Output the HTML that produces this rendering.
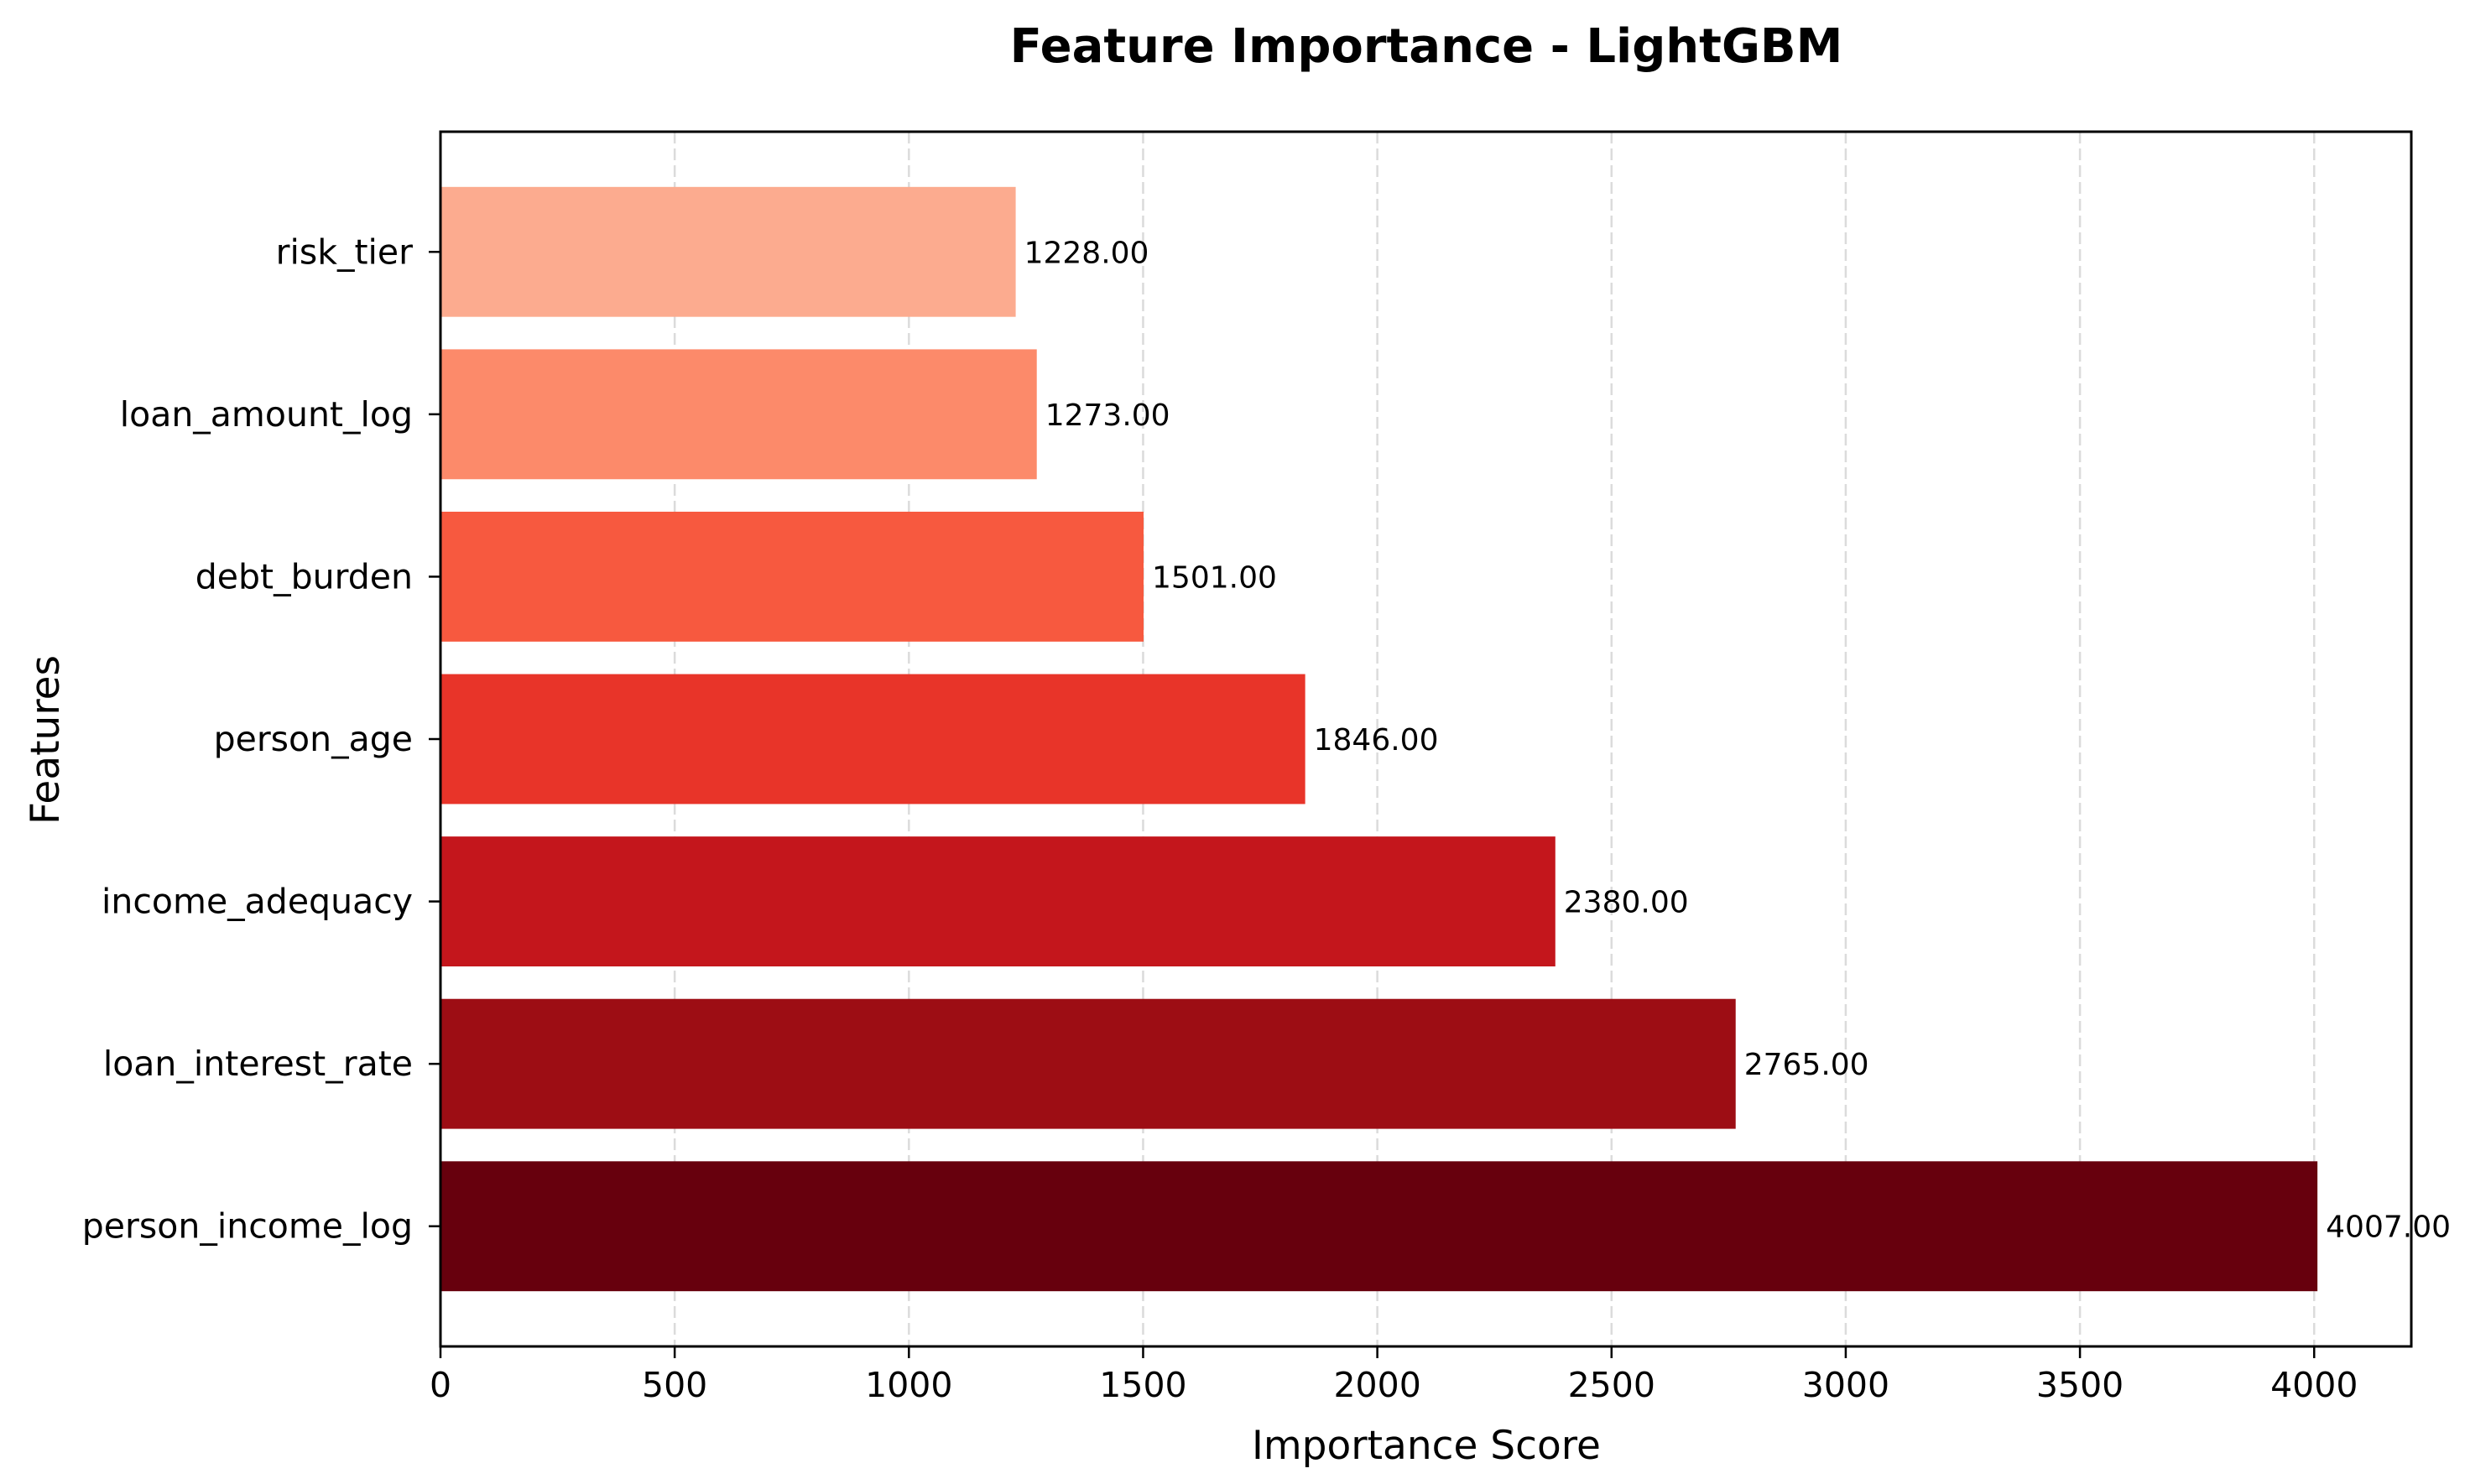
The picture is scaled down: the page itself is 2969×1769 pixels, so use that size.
<!DOCTYPE html>
<html><head><meta charset="utf-8"><style>
html,body{margin:0;padding:0;background:#fff;}
svg{display:block;font-family:"DejaVu Sans","Liberation Sans",sans-serif;}
</style></head><body>
<svg id="chart" width="2969" height="1769" viewBox="0 0 2969 1769" xmlns="http://www.w3.org/2000/svg">
<rect width="2969" height="1769" fill="#fff"/>
<text x="1700" y="74" text-anchor="middle" font-size="56" font-weight="bold">Feature Importance - LightGBM</text>
<g id="grid"></g>
<g id="bars"></g>
<g id="axes"></g>
<text x="1700" y="1739" text-anchor="middle" font-size="47">Importance Score</text>
<text transform="translate(70,882) rotate(-90)" text-anchor="middle" font-size="47">Features</text>
</svg>
<script>
const categories = ["person_income_log","loan_interest_rate","income_adequacy","person_age","debt_burden","loan_amount_log","risk_tier"];
const values = [4007,2765,2380,1846,1501,1273,1228];
const colors = ["#67000d","#9d0d14","#c4161c","#e83429","#f7593f","#fc8a6a","#fcab8f"];
const xTicks = [0,500,1000,1500,2000,2500,3000,3500,4000];
const valueLabels = ["4007.00","2765.00","2380.00","1846.00","1501.00","1273.00","1228.00"];

const NS="http://www.w3.org/2000/svg";
const L=525,R=2874,T=157,B=1605;
const xMax=Math.max(...values)*1.05;
const x=v=>L+(v/xMax)*(R-L);
const n=categories.length;
const yMin=-0.4-0.34, yMax=(n-1)+0.4+0.34;
const y=v=>B-(v-yMin)/(yMax-yMin)*(B-T);
function mk(tag,attrs,parent){const e=document.createElementNS(NS,tag);for(const k in attrs)e.setAttribute(k,attrs[k]);parent.appendChild(e);return e;}
const grid=document.getElementById('grid'),bars=document.getElementById('bars'),axes=document.getElementById('axes');
xTicks.forEach(t=>{
  const g=mk('line',{x1:x(t),x2:x(t),y1:T,y2:B,stroke:'#b0b0b0','stroke-opacity':0.45,'stroke-width':2.5,'stroke-dasharray':'14,6'},grid);
  
  
});
categories.forEach((c,i)=>{
  const h=0.8*(B-T)/(yMax-yMin);
  const r=mk('rect',{x:x(0),y:y(i)-h/2,width:x(values[i])-x(0),height:h,fill:colors[i]},bars);
  
  
  const tl=mk('text',{x:x(values[i])+10,y:y(i)+13,'font-size':36},bars);
  tl.textContent=valueLabels[i];
  
  
  const tk=mk('line',{x1:L-14,x2:L,y1:y(i),y2:y(i),stroke:'#000','stroke-width':2.5},axes);
  
  
  const lb=mk('text',{x:L-33,y:y(i)+14,'text-anchor':'end','font-size':41},axes);
  lb.textContent=c;
  
  
});
xTicks.forEach(t=>{
  const tk=mk('line',{x1:x(t),x2:x(t),y1:B,y2:B+14,stroke:'#000','stroke-width':2.5},axes);
  
  
  const lb=mk('text',{x:x(t),y:B+60,'text-anchor':'middle','font-size':41},axes);
  lb.textContent=t;
  
  
});
const fr=mk('rect',{x:L,y:T,width:R-L,height:B-T,fill:'none',stroke:'#000','stroke-width':3},axes);


</script>
</body></html>
